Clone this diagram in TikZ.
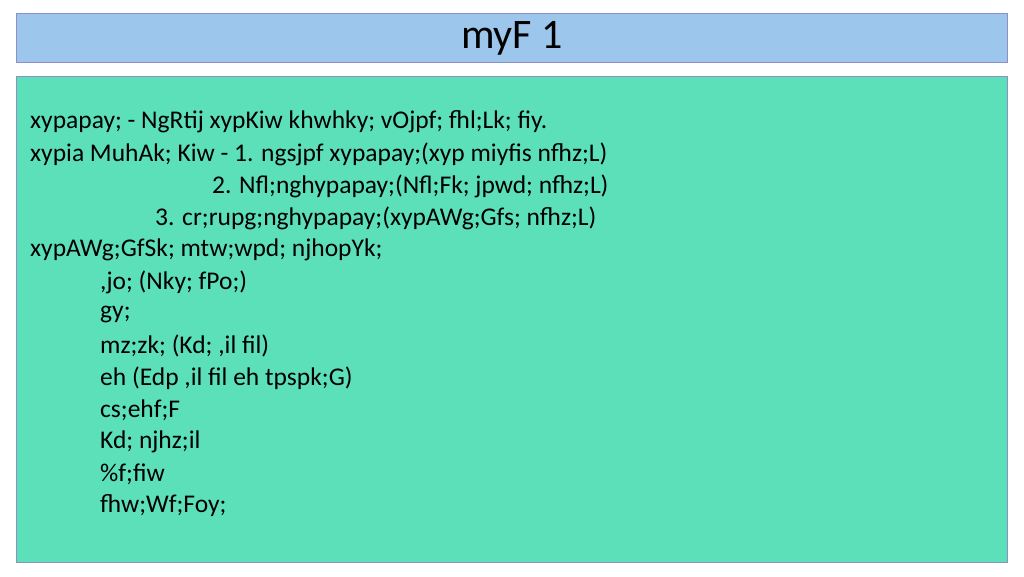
\documentclass[tikz,border=0pt]{standalone}
\usepackage{fontspec}
\setmainfont{Carlito}
\usetikzlibrary{positioning}
\definecolor{titleblue}{HTML}{9DC6EC}
\definecolor{boxgreen}{HTML}{5CE0B9}
\definecolor{edgeblue}{HTML}{8E8FC8}
\tikzset{
  line/.style={anchor=west, inner sep=0pt, font=\fontsize{25.5}{28}\selectfont}
}
\begin{document}
\begin{tikzpicture}[x=1pt, y=-1pt]

    % Page
    \useasboundingbox (0,0) rectangle (1024,576);

    % Title bar and body box
    \draw[edgeblue, fill=titleblue] (16,13) rectangle (1007,62);
    \node[font=\fontsize{42}{44}\selectfont] (title) at (512,38) {myF 1};
    \draw[edgeblue, fill=boxgreen] (16,76) rectangle (1007,562);

    % Body lines
    \node[line] (l1) at (30,122) {xypapay; - NgRtij xypKiw khwhky; vOjpf; fhl;Lk; fiy.};
    \node[line] (l2) at (30,154) {xypia MuhAk; Kiw - 1. ngsjpf xypapay;(xyp miyfis nfhz;L)};
    \node[line] (l3) at (212,186) {2. Nfl;nghypapay;(Nfl;Fk; jpwd; nfhz;L)};
    \node[line] (l4) at (155,218) {3. cr;rupg;nghypapay;(xypAWg;Gfs; nfhz;L)};
    \node[line] (l5) at (30,250) {xypAWg;GfSk; mtw;wpd; njhopYk;};
    \node[line] (l6) at (100,282) {,jo; (Nky; fPo;)};
    \node[line] (l7) at (100,314) {gy;};
    \node[line] (l8) at (100,346) {mz;zk; (Kd; ,il fil)};
    \node[line] (l9) at (100,378) {eh (Edp ,il fil eh tpspk;G)};
    \node[line] (l10) at (100,410) {cs;ehf;F};
    \node[line] (l11) at (100,442) {Kd; njhz;il};
    \node[line] (l12) at (100,474) {\%f;fiw};
    \node[line] (l13) at (100,506) {fhw;Wf;Foy;};

\end{tikzpicture}
\end{document}
